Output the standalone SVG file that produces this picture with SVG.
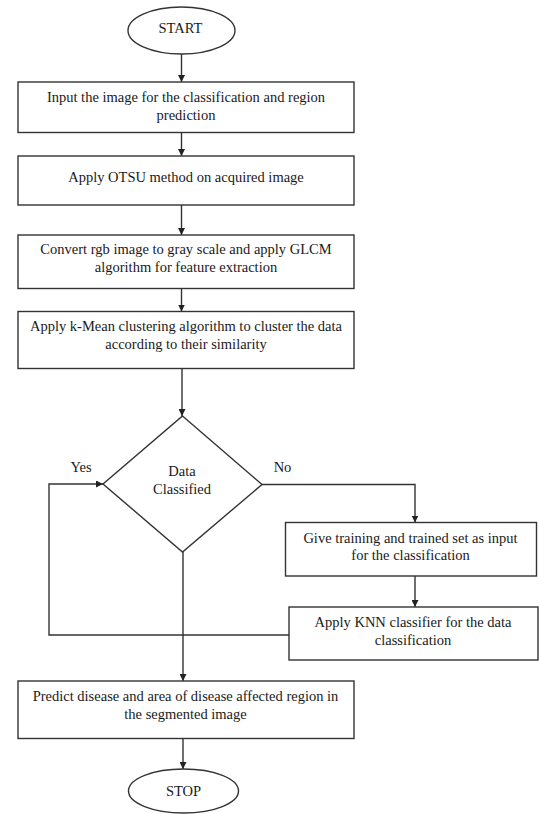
<svg xmlns="http://www.w3.org/2000/svg" width="539" height="814" viewBox="0 0 539 814">
<style>
.s{fill:#fff;stroke:#333;stroke-width:1.4}
.c{fill:none;stroke:#333;stroke-width:1.4}
.t{font-family:'Liberation Serif',serif;font-size:14.5px;fill:#1a1a1a;text-anchor:middle}
</style>
<defs>
<marker id="ah" viewBox="0 0 10 10" refX="10" refY="5" markerWidth="7" markerHeight="7" markerUnits="userSpaceOnUse" orient="auto">
<path d="M0,0 L10,5 L0,10 Z" fill="#222"/>
</marker>
</defs>
<rect width="539" height="814" fill="#fff"/>
<g id="connectors">
<line class="c" x1="181.5" y1="54" x2="181.5" y2="82" marker-end="url(#ah)"/>
<line class="c" x1="181.5" y1="133" x2="181.5" y2="156" marker-end="url(#ah)"/>
<line class="c" x1="181.5" y1="205" x2="181.5" y2="235" marker-end="url(#ah)"/>
<line class="c" x1="181.5" y1="288" x2="181.5" y2="311.5" marker-end="url(#ah)"/>
<line class="c" x1="182" y1="369" x2="182" y2="416" marker-end="url(#ah)"/>
<polyline class="c" points="262,484.5 415,484.5 415,522.5" marker-end="url(#ah)"/>
<line class="c" x1="415" y1="576" x2="415" y2="607" marker-end="url(#ah)"/>
<polyline class="c" points="289,635 49,635 49,484 103,484" marker-end="url(#ah)"/>
<line class="c" x1="183" y1="552" x2="183" y2="681" marker-end="url(#ah)"/>
<line class="c" x1="183" y1="738.5" x2="183" y2="769" marker-end="url(#ah)"/>
</g>
<g class="t" font-family="Liberation Serif, serif">
<g id="start">
<ellipse class="s" cx="181.5" cy="30.5" rx="53.5" ry="23.5"/>
<text x="180.5" y="32.5">START</text>
</g>
<g id="input">
<rect class="s" x="18" y="82" width="336" height="50.5"/>
<text x="186" y="102">Input the image for the classification and region</text>
<text x="186" y="120">prediction</text>
</g>
<g id="otsu">
<rect class="s" x="18" y="156" width="336" height="49"/>
<text x="186" y="181.5">Apply OTSU method on acquired image</text>
</g>
<g id="glcm">
<rect class="s" x="18" y="235" width="336" height="53.5"/>
<text x="186" y="254">Convert rgb image to gray scale and apply GLCM</text>
<text x="186" y="272">algorithm for feature extraction</text>
</g>
<g id="kmean">
<rect class="s" x="18" y="311.5" width="336" height="57"/>
<text x="186" y="331">Apply k-Mean clustering algorithm to cluster the data</text>
<text x="186" y="349">according to their similarity</text>
</g>
<g id="decision">
<polygon class="s" points="182.5,416 262,484.5 182.5,552 103,484"/>
<text x="182" y="476">Data</text>
<text x="182" y="494">Classified</text>
</g>
<g id="labels">
<text x="81" y="471.5">Yes</text>
<text x="282.5" y="471.5">No</text>
</g>
<g id="training">
<rect class="s" x="285.5" y="522.5" width="251" height="53.5"/>
<text x="410.5" y="542.5">Give training and trained set as input</text>
<text x="410.5" y="560">for the classification</text>
</g>
<g id="knn">
<rect class="s" x="289" y="607" width="249" height="53"/>
<text x="413" y="626.5">Apply KNN classifier for the data</text>
<text x="413" y="645">classification</text>
</g>
<g id="predict">
<rect class="s" x="18" y="681" width="336" height="57.5"/>
<text x="185.5" y="700.5">Predict disease and area of disease affected region in</text>
<text x="185.5" y="719">the segmented image</text>
</g>
<g id="stop">
<ellipse class="s" cx="183.5" cy="791" rx="55" ry="22"/>
<text x="183.5" y="796">STOP</text>
</g>
</g>
</svg>
